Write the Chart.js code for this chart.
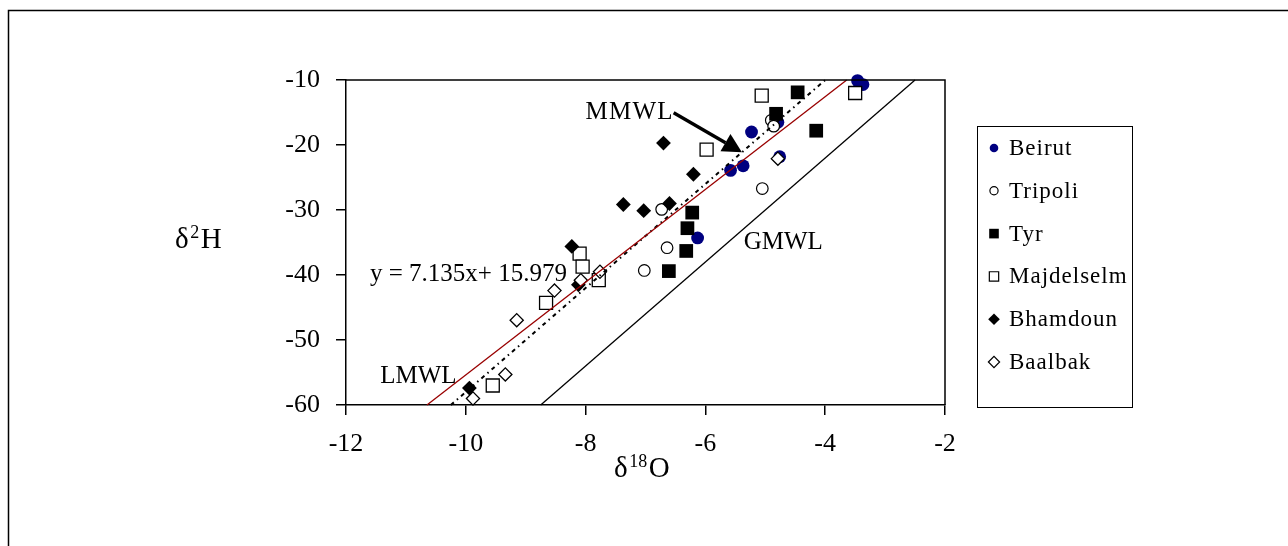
<!DOCTYPE html>
<html>
<head>
<meta charset="utf-8">
<script src="https://cdn.jsdelivr.net/npm/chart.js@4.4.1/dist/chart.umd.min.js"></script>
<style>
  html, body { margin: 0; padding: 0; background: #fff; }
  canvas { display: block; }
</style>
</head>
<body>
<canvas id="c" width="1288" height="546"></canvas>
<script>
// Station samples: δ18O (x) and δ2H (y), per mil
const stations = ['Beirut', 'Tripoli', 'Tyr', 'Majdelselm', 'Bhamdoun', 'Baalbak'];

const beirutO = [-3.46, -3.37, -5.23, -5.58, -5.37, -4.76, -6.13, -4.79];
const beirutH = [-10.1, -10.7, -18.0, -23.9, -23.2, -21.8, -34.3, -16.5];

const tripoliO = [-4.90, -4.86, -5.05, -6.73, -6.64, -7.02];
const tripoliH = [-16.2, -17.1, -26.7, -29.9, -35.8, -39.3];

const tyrO = [-4.46, -4.82, -4.15, -6.22, -6.30, -6.32, -6.61];
const tyrH = [-11.9, -15.2, -17.8, -30.4, -32.8, -36.3, -39.4];

const majdelselmO = [-5.06, -3.50, -5.98, -8.10, -8.05, -7.78, -8.66, -9.55];
const majdelselmH = [-12.4, -12.0, -20.7, -36.7, -38.7, -40.8, -44.3, -57.0];

const bhamdounO = [-6.20, -7.37, -7.03, -6.60, -8.23, -6.70, -9.94, -8.12];
const bhamdounH = [-24.5, -29.15, -30.1, -29.0, -35.6, -19.7, -57.4, -41.5];

const baalbakO = [-4.79, -9.88, -9.34, -9.15, -8.52, -8.08, -7.76];
const baalbakH = [-22.1, -59.0, -55.3, -46.95, -42.4, -40.8, -39.5];

// Meteoric water lines: δ2H = slope * δ18O + intercept
const lineNames = ['LMWL', 'MMWL', 'GMWL'];
const lineSlopes = [7.135, 8, 8];
const lineIntercepts = [15.979, 22, 10];

const xTicks = [-12, -10, -8, -6, -4, -2];
const yTicks = [-60, -50, -40, -30, -20, -10];

const SERIF = '"Liberation Serif", "Times New Roman", serif';

const pairs = (xs, ys) => xs.map((x, i) => ({ x: x, y: ys[i] }));
const yMin = yTicks[0], yMax = yTicks[yTicks.length - 1];
const linePoints = (m, b) => [
  { x: (yMin - b) / m, y: yMin },
  { x: (yMax - b) / m, y: yMax }
];

const stationStyles = [
  { pointStyle: 'circle',  radius: 6.4, bg: '#000080', border: '#000080', bw: 0,   lr: 4.3 },
  { pointStyle: 'circle',  radius: 5.8, bg: '#ffffff', border: '#000000', bw: 1.2, lr: 4.1 },
  { pointStyle: 'rect',    radius: 9.7, bg: '#000000', border: '#000000', bw: 0,   lr: 6.8 },
  { pointStyle: 'rect',    radius: 9.2, bg: '#ffffff', border: '#000000', bw: 1.3, lr: 6.6 },
  { pointStyle: 'rectRot', radius: 7.4, bg: '#000000', border: '#000000', bw: 0,   lr: 5.8 },
  { pointStyle: 'rectRot', radius: 6.6, bg: '#ffffff', border: '#000000', bw: 1.3, lr: 5.6 }
];
const stationData = [
  pairs(beirutO, beirutH),
  pairs(tripoliO, tripoliH),
  pairs(tyrO, tyrH),
  pairs(majdelselmO, majdelselmH),
  pairs(bhamdounO, bhamdounH),
  pairs(baalbakO, baalbakH)
];

const datasets = stations.map((name, i) => ({
  label: name,
  data: stationData[i],
  showLine: false,
  pointStyle: stationStyles[i].pointStyle,
  pointRadius: stationStyles[i].radius,
  pointBackgroundColor: stationStyles[i].bg,
  pointBorderColor: stationStyles[i].border,
  pointBorderWidth: stationStyles[i].bw,
  clip: false,
  order: 10 - i
}));

const lineStyles = [
  { color: '#990000', width: 1.3, dash: [] },
  { color: '#000000', width: 2,   dash: [4, 4, 1.5, 4] },
  { color: '#000000', width: 1.3, dash: [] }
];
lineNames.forEach((name, i) => {
  datasets.push({
    label: name,
    data: linePoints(lineSlopes[i], lineIntercepts[i]),
    showLine: true,
    borderColor: lineStyles[i].color,
    borderWidth: lineStyles[i].width,
    borderDash: lineStyles[i].dash,
    pointRadius: 0,
    fill: false,
    clip: false,
    order: 1 + i
  });
});

// Text labels placed in data coordinates (left edge, baseline)
const equationText = 'y = 7.135x+ 15.979';
const textLabels = [
  { text: 'MMWL', x: -8.0, y: -15.95, spacing: 1.2 },
  { text: 'GMWL', x: -5.36, y: -35.95, spacing: 0 },
  { text: 'LMWL', x: -11.43, y: -56.6, spacing: 0 },
  { text: equationText, x: -11.6, y: -40.95, spacing: 0 }
];
const arrowFrom = { x: -6.53, y: -15.05 };
const arrowTo = { x: -5.39, y: -21.1 };

function drawShape(ctx, style, r, x, y) {
  ctx.beginPath();
  if (style === 'circle') {
    ctx.arc(x, y, r, 0, Math.PI * 2);
  } else if (style === 'rect') {
    const s = r * Math.SQRT1_2;
    ctx.rect(x - s, y - s, 2 * s, 2 * s);
  } else {
    ctx.moveTo(x - r, y); ctx.lineTo(x, y - r); ctx.lineTo(x + r, y); ctx.lineTo(x, y + r);
    ctx.closePath();
  }
}

function drawSup(ctx, parts, x, y, size, gap) {
  // parts: [text, isSuperscript]
  let cx = x;
  parts.forEach(([t, sup]) => {
    ctx.font = (sup ? Math.round(size * 0.62) : size) + 'px ' + SERIF;
    ctx.fillText(t, cx, sup ? y - size * 0.36 : y);
    cx += ctx.measureText(t).width + gap;
  });
}

const decorPlugin = {
  id: 'decor',
  beforeDraw(chart) {
    const ctx = chart.ctx;
    ctx.save();
    ctx.fillStyle = '#fff';
    ctx.fillRect(0, 0, chart.width, chart.height);
    // outer frame
    ctx.strokeStyle = '#000';
    ctx.lineWidth = 1.5;
    ctx.beginPath();
    ctx.moveTo(8.5, chart.height + 5);
    ctx.lineTo(8.5, 10.5);
    ctx.lineTo(chart.width + 5, 10.5);
    ctx.stroke();
    ctx.restore();
  },
  afterDraw(chart) {
    const ctx = chart.ctx;
    const a = chart.chartArea;
    const xs = chart.scales.x, ys = chart.scales.y;
    ctx.save();
    // plot box top and right edges
    ctx.strokeStyle = '#000';
    ctx.lineWidth = 1.5;
    ctx.beginPath();
    ctx.moveTo(a.left, a.top);
    ctx.lineTo(a.right, a.top);
    ctx.lineTo(a.right, a.bottom);
    ctx.stroke();

    // annotations
    ctx.fillStyle = '#000';
    ctx.textBaseline = 'alphabetic';
    ctx.textAlign = 'left';
    ctx.font = '25px ' + SERIF;
    textLabels.forEach(l => {
      ctx.letterSpacing = l.spacing + 'px';
      ctx.fillText(l.text, xs.getPixelForValue(l.x), ys.getPixelForValue(l.y));
    });
    ctx.letterSpacing = '0px';

    // arrow to the MMWL
    const x0 = xs.getPixelForValue(arrowFrom.x), y0 = ys.getPixelForValue(arrowFrom.y);
    const x1 = xs.getPixelForValue(arrowTo.x), y1 = ys.getPixelForValue(arrowTo.y);
    const ang = Math.atan2(y1 - y0, x1 - x0);
    const headLen = 19, headW = 10;
    const bx = x1 - headLen * Math.cos(ang), by = y1 - headLen * Math.sin(ang);
    ctx.lineWidth = 3.4;
    ctx.beginPath();
    ctx.moveTo(x0, y0);
    ctx.lineTo(bx, by);
    ctx.stroke();
    ctx.beginPath();
    ctx.moveTo(x1, y1);
    ctx.lineTo(bx + headW * Math.sin(ang), by - headW * Math.cos(ang));
    ctx.lineTo(bx - headW * Math.sin(ang), by + headW * Math.cos(ang));
    ctx.closePath();
    ctx.fill();

    // axis titles
    drawSup(ctx, [['δ', false], ['2', true], ['H', false]], 175, 248, 29, 1.5);
    drawSup(ctx, [['δ', false], ['18', true], ['O', false]], 614, 477, 29, 1.5);

    // legend
    ctx.lineWidth = 1;
    ctx.strokeRect(977.5, 126.5, 155, 281);
    ctx.font = '23px ' + SERIF;
    ctx.textBaseline = 'middle';
    stations.forEach((name, i) => {
      const st = stationStyles[i];
      const y = 148 + i * 42.8;
      drawShape(ctx, st.pointStyle, st.lr, 994, y);
      ctx.fillStyle = st.bg;
      ctx.fill();
      if (st.bw > 0) {
        ctx.strokeStyle = st.border;
        ctx.lineWidth = 1.2;
        ctx.stroke();
      }
      ctx.fillStyle = '#000';
      ctx.letterSpacing = '1px';
      ctx.fillText(name, 1009, y + 1);
      ctx.letterSpacing = '0px';
    });
    ctx.restore();
  }
};

new Chart(document.getElementById('c'), {
  type: 'scatter',
  data: { datasets: datasets },
  options: {
    responsive: false,
    animation: false,
    devicePixelRatio: 1,
    layout: { padding: { top: 80, right: 343, bottom: 0, left: 0 } },
    plugins: { legend: { display: false }, tooltip: { enabled: false } },
    scales: {
      x: {
        type: 'linear',
        min: xTicks[0],
        max: xTicks[xTicks.length - 1],
        afterBuildTicks: s => { s.ticks = xTicks.map(v => ({ value: v })); },
        afterFit: s => { s.height = 141; },
        ticks: { color: '#000', font: { family: SERIF, size: 26 }, padding: 14, maxRotation: 0 },
        grid: { drawOnChartArea: false, drawTicks: true, tickLength: 10, color: '#000', lineWidth: 1.5 },
        border: { display: true, color: '#000', width: 1.5 }
      },
      y: {
        type: 'linear',
        min: yMin,
        max: yMax,
        afterBuildTicks: s => { s.ticks = yTicks.map(v => ({ value: v })); },
        afterFit: s => { s.width = 346; },
        ticks: { color: '#000', font: { family: SERIF, size: 26 }, padding: 16 },
        grid: { drawOnChartArea: false, drawTicks: true, tickLength: 10, color: '#000', lineWidth: 1.5 },
        border: { display: true, color: '#000', width: 1.5 }
      }
    }
  },
  plugins: [decorPlugin]
});
</script>
</body>
</html>
